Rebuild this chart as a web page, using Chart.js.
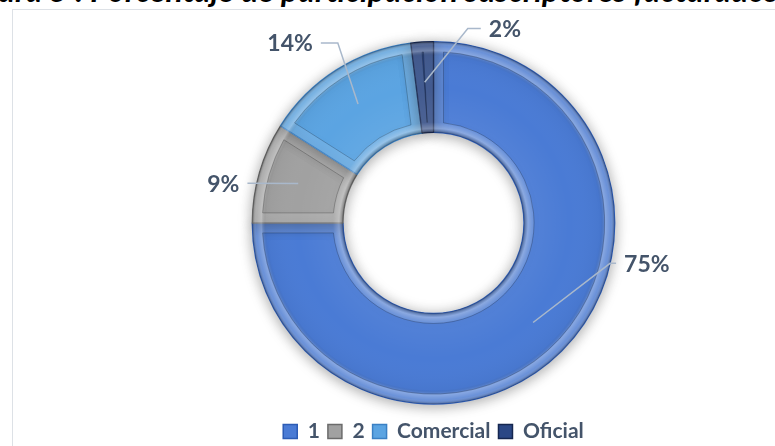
<!DOCTYPE html>
<html>
<head>
<meta charset="utf-8">
<script src="https://cdn.jsdelivr.net/npm/chart.js@4.4.1/dist/chart.umd.min.js"></script>
<style>
  html, body { margin: 0; padding: 0; width: 775px; height: 446px; overflow: hidden; background: #fff; }
  body { position: relative; }
  #caption {
    position: absolute; left: -43px; top: -26px; white-space: nowrap;
    font: italic bold 32px Lato, sans-serif; line-height: 32px; color: #000;
  }
  #frame {
    position: absolute; left: 12px; top: 9px; width: 800px; height: 500px;
    border: 1px solid #dde1e6;
  }
  #wrap { position: absolute; left: 0; top: 0; width: 775px; height: 452px; }
</style>
</head>
<body>
<div id="caption">Figura 5 : Porcentaje de participación suscriptores facturados</div>
<div id="frame"></div>
<div id="wrap"><canvas id="chart" width="775" height="452"></canvas></div>
<script>
  // data
  const categories = ['1', '2', 'Comercial', 'Oficial'];
  const shares = [75, 9, 14, 2];
  const sliceColors = ['#4a7bd5', '#a1a1a1', '#5ba4e2', '#2b4785'];
  const edgeColors = ['#2d5cb5', '#6b6b6b', '#3a80c4', '#15264f'];

  // where each leader line bends: angle (deg, canvas), radius vs outer radius, tail length (+ right / - left)
  const labelPlacement = [
    { angle: 12.9, r: 1.00, tail: 6 },
    { angle: 192, r: 1.05, tail: 0 },
    { angle: 242, r: 1.125, tail: -17 },
    { angle: 280, r: 1.09, tail: 13 }
  ];

  const ringShadow = {
    id: 'ringShadow',
    beforeDatasetDraw(chart) {
      const ctx = chart.ctx;
      ctx.save();
      ctx.shadowColor = 'rgba(0,0,0,0.35)';
      ctx.shadowBlur = 14;
      ctx.shadowOffsetX = 0;
      ctx.shadowOffsetY = 2;
    },
    afterDatasetDraw(chart) {
      chart.ctx.restore();
    }
  };

  function arcPath(ctx, x, y, r0, r1, s, e) {
    ctx.moveTo(x + Math.cos(s) * r1, y + Math.sin(s) * r1);
    ctx.arc(x, y, r1, s, e);
    ctx.arc(x, y, r0, e, s, true);
    ctx.closePath();
  }

  // inset outline of a slice, gives the bevelled tile look
  function insetPath(ctx, x, y, r0, r1, s, e, d) {
    const ro = r1 - d, ri = r0 + d;
    let so = s + d / ro, eo = e - d / ro;
    let si = s + d / ri, ei = e - d / ri;
    if (so > eo) { so = eo = (s + e) / 2; }
    if (si > ei) { si = ei = (s + e) / 2; }
    ctx.moveTo(x + Math.cos(so) * ro, y + Math.sin(so) * ro);
    ctx.arc(x, y, ro, so, eo);
    ctx.lineTo(x + Math.cos(ei) * ri, y + Math.sin(ei) * ri);
    ctx.arc(x, y, ri, ei, si, true);
    ctx.closePath();
  }

  const bevelAndLabels = {
    id: 'bevelAndLabels',
    afterDatasetsDraw(chart) {
      const ctx = chart.ctx;
      const arcs = chart.getDatasetMeta(0).data;
      arcs.forEach((arc, i) => {
        const { x, y, startAngle, endAngle, innerRadius, outerRadius } = arc.getProps(['x', 'y', 'startAngle', 'endAngle', 'innerRadius', 'outerRadius'], true);
        const w = outerRadius - innerRadius;
        ctx.save();
        ctx.beginPath();
        arcPath(ctx, x, y, innerRadius, outerRadius, startAngle, endAngle);
        ctx.clip();

        const g = ctx.createRadialGradient(x, y, innerRadius, x, y, outerRadius);
        g.addColorStop(0, 'rgba(0,0,0,0.35)');
        g.addColorStop(4 / w, 'rgba(255,255,255,0.28)');
        g.addColorStop(10 / w, 'rgba(255,255,255,0.05)');
        g.addColorStop(0.5, 'rgba(255,255,255,0)');
        g.addColorStop(1 - 14 / w, 'rgba(0,0,0,0.03)');
        g.addColorStop(1 - 9 / w, 'rgba(255,255,255,0.25)');
        g.addColorStop(1 - 4 / w, 'rgba(255,255,255,0.08)');
        g.addColorStop(1, 'rgba(0,0,0,0.35)');
        ctx.fillStyle = g;
        ctx.fillRect(x - outerRadius, y - outerRadius, outerRadius * 2, outerRadius * 2);

        // bevel strip lighter, inner tile outlined
        ctx.beginPath();
        arcPath(ctx, x, y, innerRadius, outerRadius, startAngle, endAngle);
        insetPath(ctx, x, y, innerRadius, outerRadius, startAngle, endAngle, 10);
        ctx.fillStyle = 'rgba(255,255,255,0.12)';
        ctx.fill('evenodd');
        ctx.beginPath();
        insetPath(ctx, x, y, innerRadius, outerRadius, startAngle, endAngle, 10);
        ctx.strokeStyle = 'rgba(0,0,0,0.22)';
        ctx.lineWidth = 1;
        ctx.stroke();
        ctx.restore();
      });

      // leader lines and percentage labels
      ctx.save();
      ctx.strokeStyle = '#a9b8cb';
      ctx.lineWidth = 1.5;
      ctx.fillStyle = '#44546a';
      ctx.font = 'bold 23px Lato, sans-serif';
      ctx.textBaseline = 'middle';
      arcs.forEach((arc, i) => {
        const { x, y, startAngle, endAngle, innerRadius, outerRadius } = arc.getProps(['x', 'y', 'startAngle', 'endAngle', 'innerRadius', 'outerRadius'], true);
        const mid = (startAngle + endAngle) / 2;
        const rm = (innerRadius + outerRadius) / 2 + 5;
        const ax = x + Math.cos(mid) * rm, ay = y + Math.sin(mid) * rm;
        const p = labelPlacement[i];
        const a = p.angle * Math.PI / 180;
        const ex = x + Math.cos(a) * outerRadius * p.r, ey = y + Math.sin(a) * outerRadius * p.r;
        const tx = ex + p.tail;
        ctx.beginPath();
        ctx.moveTo(ax, ay);
        ctx.lineTo(ex, ey);
        ctx.lineTo(tx, ey);
        ctx.stroke();
        const right = p.tail > 0 || (p.tail === 0 && Math.cos(a) > 0);
        ctx.textAlign = right ? 'left' : 'right';
        ctx.fillText(shares[i] + '%', tx + (right ? 8 : -8), ey + 1);
      });
      ctx.restore();
    }
  };

  new Chart(document.getElementById('chart'), {
    type: 'doughnut',
    data: {
      labels: categories,
      datasets: [{
        data: shares,
        backgroundColor: sliceColors,
        borderColor: edgeColors,
        borderWidth: 1.5,
        hoverOffset: 0
      }]
    },
    options: {
      responsive: false,
      animation: false,
      cutout: '50%',
      layout: { padding: { left: 92, right: 0, top: 41, bottom: 0 } },
      plugins: {
        tooltip: { enabled: false },
        legend: {
          position: 'bottom',
          title: { display: true, text: '', font: { size: 1 }, padding: { top: 0, bottom: 7 } },
          labels: {
            boxWidth: 14,
            boxHeight: 14,
            padding: 8,
            color: '#44546a',
            font: { family: 'Lato', size: 21, weight: 'bold' },
            generateLabels(chart) {
              return categories.map((c, i) => ({
                text: c,
                fillStyle: sliceColors[i],
                strokeStyle: edgeColors[i],
                lineWidth: 1.5,
                index: i,
                fontColor: '#44546a'
              }));
            }
          }
        }
      }
    },
    plugins: [ringShadow, bevelAndLabels]
  });
</script>
</body>
</html>
